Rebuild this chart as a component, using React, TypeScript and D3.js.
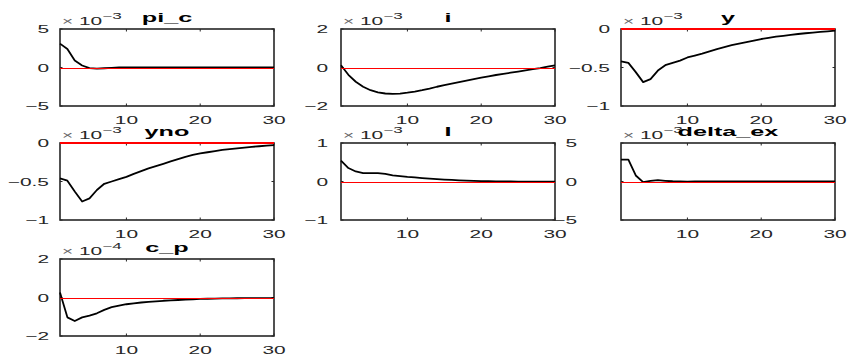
import React from "react";
import * as d3 from "d3";

// impulse responses, values in units of the panel's exponent (x 10^-3 or 10^-4)
const steps = d3.range(1, 31);

const piC = [3.1, 2.4, 0.9, 0.26, -0.08, -0.15, -0.1, -0.05, 0, 0.02, 0.02, 0.02, 0.01, 0.01, 0.01, 0, 0, 0, 0, 0, 0, 0, 0, 0, 0, 0, 0, 0, 0, 0];
const iRate = [0.12, -0.38, -0.74, -1.0, -1.18, -1.29, -1.35, -1.37, -1.36, -1.31, -1.25, -1.18, -1.1, -1.0, -0.92, -0.84, -0.76, -0.68, -0.6, -0.53, -0.46, -0.39, -0.33, -0.27, -0.21, -0.15, -0.09, -0.03, 0.04, 0.11];
const yOut = [-0.42, -0.44, -0.56, -0.69, -0.65, -0.54, -0.47, -0.44, -0.41, -0.37, -0.345, -0.32, -0.29, -0.26, -0.235, -0.21, -0.19, -0.17, -0.15, -0.13, -0.115, -0.1, -0.088, -0.076, -0.065, -0.055, -0.046, -0.038, -0.03, -0.022];
const yno = [-0.46, -0.49, -0.63, -0.76, -0.72, -0.61, -0.53, -0.5, -0.47, -0.44, -0.4, -0.365, -0.33, -0.3, -0.27, -0.24, -0.21, -0.18, -0.155, -0.135, -0.12, -0.105, -0.09, -0.08, -0.07, -0.06, -0.05, -0.042, -0.035, -0.028];
const invest = [0.54, 0.35, 0.26, 0.22, 0.22, 0.22, 0.2, 0.16, 0.14, 0.12, 0.105, 0.09, 0.076, 0.063, 0.05, 0.04, 0.03, 0.022, 0.015, 0.01, 0.006, 0.003, 0.001, 0, -0.002, -0.003, -0.004, -0.005, -0.005, -0.005];
const deltaEx = [2.85, 2.85, 0.78, -0.09, 0.09, 0.17, 0.09, 0.03, 0, -0.01, 0, 0.01, 0.01, 0, 0, 0, 0, 0, 0, 0, 0, 0, 0, 0, 0, 0, 0, 0, 0, 0];
const cP = [0.26, -1.03, -1.22, -1.03, -0.94, -0.82, -0.64, -0.5, -0.42, -0.35, -0.3, -0.26, -0.23, -0.2, -0.17, -0.15, -0.13, -0.11, -0.09, -0.075, -0.065, -0.055, -0.05, -0.045, -0.04, -0.035, -0.035, -0.03, -0.03, -0.03];

const series = [piC, iRate, yOut, yno, invest, deltaEx, cP];
const titles = ["pi_c", "i", "y", "yno", "I", "delta_ex", "c_p"];
const exponents = ["-3", "-3", "-3", "-3", "-3", "-3", "-4"];
const yDomains: [number, number][] = [[-5, 5], [-2, 2], [-1, 0], [-1, 0], [-1, 1], [-5, 5], [-2, 2]];
const yTicks = [[-5, 0, 5], [-2, 0, 2], [-1, -0.5, 0], [-1, -0.5, 0], [-1, 0, 1], [-5, 0, 5], [-2, 0, 2]];
const xTicks = [10, 20, 30];

// layout
const W = 847, H = 356;
const colLefts = [60, 341, 621];
const rowTops = [29, 143, 259];
const pw = 214, ph = 77;
const labelGap = [11, 13, 11, 11, 13, 44, 11];
const SX = 1.9; // picture is stretched horizontally
const font = "'Liberation Sans', Arial, Helvetica, sans-serif";
const axisColor = "#262626";
const fmt = (v: number) => String(v).replace("-", "\u2212");

function Panel({ k }: { k: number }) {
  const left = colLefts[k % 3];
  const top = rowTops[Math.floor(k / 3)];
  const x = d3.scaleLinear().domain([1, 30]).range([left, left + pw]);
  const y = d3.scaleLinear().domain(yDomains[k]).range([top + ph, top]);
  const line = d3.line<number>().x((_, j) => x(steps[j])).y(d => y(d));
  const tl = 2.5;
  const onEdge = Math.abs(y(0) - top) < 1 || Math.abs(y(0) - top - ph) < 1;
  const y0 = onEdge ? y(0) : Math.round(y(0)) + 0.5;
  return (
    <g>
      <rect x={left} y={top} width={pw} height={ph} fill="none" stroke={axisColor} strokeWidth={1.6} />
      {xTicks.map(t => (
        <g key={"x" + t}>
          <line x1={x(t)} x2={x(t)} y1={top + ph} y2={top + ph - tl} stroke={axisColor} />
          <line x1={x(t)} x2={x(t)} y1={top} y2={top + tl} stroke={axisColor} />
          <text transform={`translate(${x(t)},${top + ph + 18}) scale(${SX},1)`} textAnchor="middle"
            fontSize={11} fontFamily={font} fill={axisColor}>{t}</text>
        </g>
      ))}
      {yTicks[k].map(t => (
        <g key={"y" + t}>
          <line x1={left} x2={left + tl} y1={y(t)} y2={y(t)} stroke={axisColor} />
          <line x1={left + pw} x2={left + pw - tl} y1={y(t)} y2={y(t)} stroke={axisColor} />
          <text transform={`translate(${left - labelGap[k]},${y(t) + 4}) scale(${SX},1)`} textAnchor="end"
            fontSize={11} fontFamily={font} fill={axisColor}>{fmt(t)}</text>
        </g>
      ))}
      <path d={line(series[k]) ?? ""} fill="none" stroke="#000" strokeWidth={1.8} strokeLinejoin="round" />
      <line x1={x(1)} x2={x(30)} y1={y0} y2={y0} stroke="#ff0000"
        strokeWidth={onEdge ? 1.8 : 1} shapeRendering="crispEdges" />
      <text transform={`translate(${left + 2},${top - 4}) scale(${SX},1)`} fontSize={11} fontFamily={font} fill={axisColor}>
        <tspan fontSize={10} fill="#666">×</tspan>
        <tspan> 10</tspan>
        <tspan fontSize={9} dy={-6}>{fmt(Number(exponents[k]))}</tspan>
      </text>
      <text transform={`translate(${left + pw / 2},${top - 7.5}) scale(2.1,1)`} textAnchor="middle"
        fontSize={12} fontWeight="bold" fontFamily={font} fill="#000">{titles[k]}</text>
    </g>
  );
}

export default function App() {
  return (
    <div style={{ position: "absolute", left: 0, top: 0 }}>
      <svg width={W} height={H} style={{ display: "block", background: "#fff" }}>
        {titles.map((_, k) => <Panel key={k} k={k} />)}
      </svg>
    </div>
  );
}
